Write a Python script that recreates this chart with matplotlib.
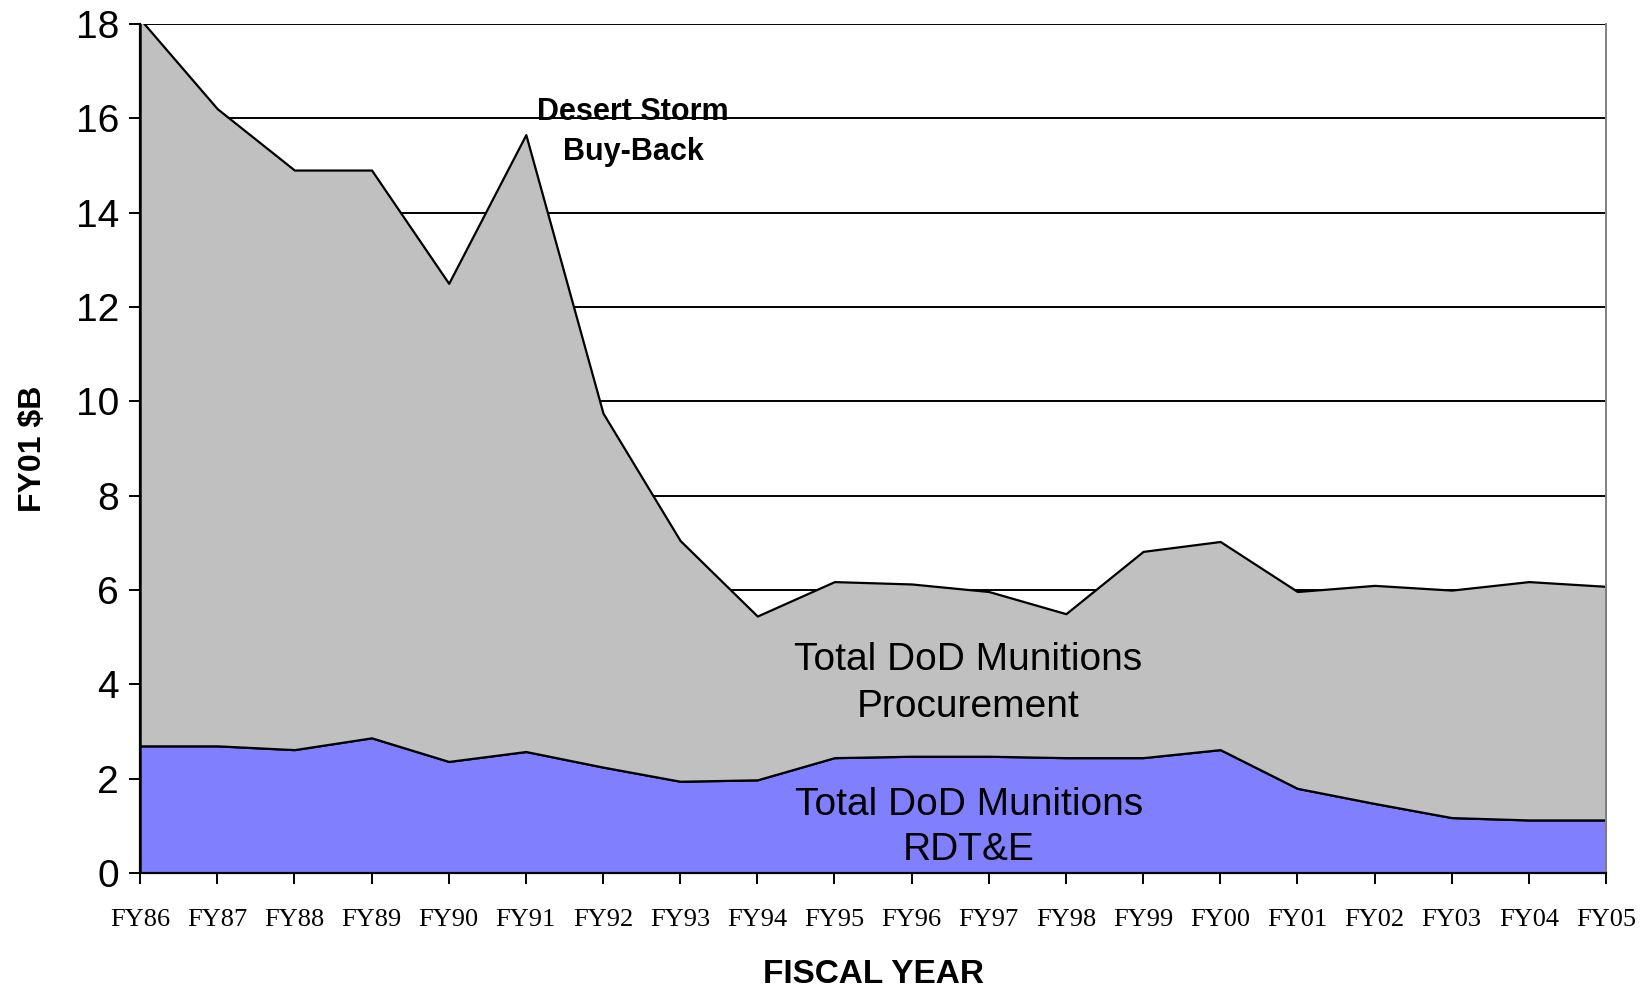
import numpy as np
import matplotlib.pyplot as plt

years = ['FY86', 'FY87', 'FY88', 'FY89', 'FY90', 'FY91', 'FY92', 'FY93', 'FY94', 'FY95',
         'FY96', 'FY97', 'FY98', 'FY99', 'FY00', 'FY01', 'FY02', 'FY03', 'FY04', 'FY05']
rdte = [2.70, 2.70, 2.62, 2.87, 2.37, 2.58, 2.25, 1.95, 1.98, 2.45,
        2.48, 2.48, 2.45, 2.45, 2.62, 1.80, 1.48, 1.18, 1.13, 1.13]
procurement = [15.40, 13.50, 12.28, 12.03, 10.13, 13.07, 7.50, 5.10, 3.47, 3.73,
               3.65, 3.49, 3.05, 4.37, 4.41, 4.17, 4.62, 4.82, 5.05, 4.95]

x = np.arange(len(years))

fig = plt.figure(figsize=(16.48, 9.89), dpi=100)
ax = fig.add_axes([0.085, 0.117, 0.8895, 0.859])

for yv in range(2, 20, 2):
    ax.axhline(yv, color='black', lw=1.4, zorder=0)

ax.stackplot(x, rdte, procurement, colors=['#8080FF', '#C0C0C0'],
             edgecolor='black', linewidth=1.6, zorder=2)

ax.set_xlim(0, len(years) - 1)
ax.set_ylim(0, 18)
ax.set_xticks(x)
ax.set_xticklabels(years, family='Liberation Serif', fontsize=19)
ax.set_yticks(range(0, 20, 2))
ax.tick_params(axis='y', labelsize=28, length=8, width=1.4, direction='out', pad=7)
ax.tick_params(axis='x', length=8, width=1.4, direction='out', pad=18)
for lbl in ax.get_yticklabels():
    lbl.set_family('Liberation Sans')

ax.spines['top'].set_visible(False)
ax.spines['right'].set_color('#808080')
ax.spines['right'].set_linewidth(1.4)
ax.spines['left'].set_linewidth(1.6)
ax.spines['bottom'].set_linewidth(1.6)
for s in ax.spines.values():
    s.set_zorder(3)

ax.set_xlabel('FISCAL YEAR', family='Liberation Sans', fontsize=24, fontweight='bold', labelpad=20)
ax.set_ylabel('FY01 $B', family='Liberation Sans', fontsize=23, fontweight='bold', labelpad=20)

ax.text(6.39, 15.7, 'Desert Storm\nBuy-Back', ha='center', va='center',
        family='Liberation Sans', fontsize=22, fontweight='bold', linespacing=1.45, zorder=4)
ax.text(10.73, 4.02, 'Total DoD Munitions\nProcurement', ha='center', va='center',
        family='Liberation Sans', fontsize=28, linespacing=1.4, zorder=4)
ax.text(10.74, 0.97, 'Total DoD Munitions\nRDT&E', ha='center', va='center',
        family='Liberation Sans', fontsize=28, linespacing=1.35, zorder=4)

fig.savefig('out.png', dpi=100)
